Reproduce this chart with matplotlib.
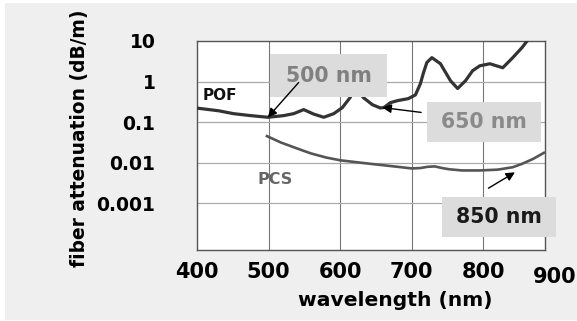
import matplotlib
matplotlib.use("Agg")
import matplotlib.pyplot as plt
from matplotlib.patches import Rectangle

# ---- data ----
pof_wl = [400, 430, 451, 475, 499, 521, 535, 549, 563, 577, 591, 603, 614, 623, 632,
          645, 656, 661, 670, 680, 695, 705, 712, 716, 721, 728, 740, 754, 764, 775,
          785, 795, 809, 827, 841, 854, 861, 868]
pof_att = [0.222, 0.191, 0.162, 0.145, 0.132, 0.145, 0.162, 0.204, 0.158, 0.132, 0.162,
           0.229, 0.407, 1.00, 0.407, 0.269, 0.224, 0.229, 0.302, 0.339, 0.380, 0.468,
           0.891, 1.585, 2.95, 3.89, 2.75, 1.05, 0.676, 1.05, 1.86, 2.45, 2.75, 2.19,
           3.89, 6.92, 10.0, 17.8]

pcs_wl = [496, 517, 540, 559, 580, 600, 625, 649, 675, 700, 712, 722, 732, 742, 752,
          770, 795, 820, 841, 855, 870, 886]
pcs_att = [0.0468, 0.0316, 0.0224, 0.0170, 0.0135, 0.0115, 0.0102, 0.00912, 0.00813,
           0.00724, 0.00741, 0.00794, 0.00813, 0.00741, 0.00692, 0.00646, 0.00646,
           0.00676, 0.00776, 0.00955, 0.0126, 0.0182]

x_ticks = [400, 500, 600, 700, 800, 900]
y_ticks = [10, 1, 0.1, 0.01, 0.001]
y_tick_labels = ["10", "1", "0.1", "0.01", "0.001"]

# annotations: label, arrow head (wl, att), arrow tail (wl, att)
ann_labels = ["500 nm", "650 nm", "850 nm"]
ann_heads = [(499, 0.132), (659, 0.229), (844, 0.0058)]
ann_tails = [(542, 0.95), (713, 0.174), (807, 0.00236)]

W, H = 577, 321
fig = plt.figure(figsize=(W / 100, H / 100), dpi=100)
fig.patch.set_facecolor("white")


def fx(px):
    return px / W


def fy(py):
    return 1 - py / H


# light grey panel
fig.patches.append(Rectangle((fx(5), fy(320)), 1 - fx(5), fy(3) - fy(320),
                             transform=fig.transFigure, facecolor="#efefef",
                             edgecolor="none", zorder=0))

ax = fig.add_axes([fx(197), fy(250), fx(545) - fx(197), fy(41) - fy(250)])
ax.set_facecolor("white")
ax.set_zorder(1)
ax.set_yscale("log")
ax.set_xlim(400, 886)
ax.set_ylim(10 ** -4.15, 10 ** 0.99)

for xv in [500, 600, 700, 800]:
    ax.axvline(xv, color="#777777", lw=0.8, zorder=1)
for yv in [1, 0.1, 0.01, 0.001]:
    ax.axhline(yv, color="#aaaaaa", lw=0.9, zorder=1)

ax.plot(pof_wl, pof_att, color="#333333", lw=2.3, solid_joinstyle="round",
        solid_capstyle="round", zorder=3)
ax.plot(pcs_wl, pcs_att, color="#555555", lw=1.9, solid_joinstyle="round",
        solid_capstyle="butt", zorder=3)

for s in ax.spines.values():
    s.set_color("#555555")
    s.set_linewidth(1.0)

font = "DejaVu Sans"
ax.set_xticks(x_ticks[:-1])
ax.set_xticklabels([str(v) for v in x_ticks[:-1]], fontsize=15, fontweight="bold",
                   family=font)
ax.text(x_ticks[-1], -0.08, str(x_ticks[-1]), transform=ax.get_xaxis_transform(),
        ha="center", va="top", fontsize=15, fontweight="bold", family=font,
        clip_on=False)
ax.set_yticks(y_ticks)
ax.set_yticklabels(y_tick_labels, fontsize=13.5, fontweight="bold", family=font)
ax.minorticks_off()
ax.tick_params(axis="x", length=0, pad=9)
ax.tick_params(axis="y", length=0, pad=30)

fig.text(fx(395), fy(300), "wavelength (nm)", ha="center", va="center", fontsize=14.6,
         fontweight="bold", family=font)
fig.text(fx(80), fy(138), "fiber attenuation (dB/m)", ha="center", va="center",
         rotation=90, fontsize=13.4, fontweight="bold", family=font)

ax.text(0.015, 0.738, "POF", transform=ax.transAxes, fontsize=11, fontweight="bold",
        family=font, color="#111111", va="center", ha="left", zorder=4)
ax.text(0.175, 0.335, "PCS", transform=ax.transAxes, fontsize=11.5, fontweight="bold",
        family=font, color="#666666", va="center", ha="left", zorder=4)

# label boxes (figure pixel layout), drawn inside the axes above the curves
boxes = [(270, 54, 117, 43, "#808080"), (427, 102, 114, 40, "#8a8a8a"),
         (442, 197, 114, 40, "#1a1a1a")]
for (bx, by, bw, bh, tc), lab in zip(boxes, ann_labels):
    ax.add_patch(Rectangle((fx(bx), fy(by + bh)), bw / W, bh / H,
                           transform=fig.transFigure, facecolor="#dcdcdc",
                           edgecolor="none", zorder=5, clip_on=False))
    ax.text(fx(bx + bw / 2), fy(by + bh / 2), lab, transform=fig.transFigure,
            ha="center", va="center", fontsize=14.8, fontweight="bold", family=font,
            color=tc, zorder=6, clip_on=False)

for head, tail in zip(ann_heads, ann_tails):
    ax.annotate("", xy=head, xytext=tail, xycoords="data", textcoords="data",
                arrowprops=dict(arrowstyle="-|>", color="black", lw=1.0,
                                mutation_scale=13, shrinkA=0, shrinkB=0),
                zorder=7, annotation_clip=False)

fig.savefig("out.png", dpi=100)
